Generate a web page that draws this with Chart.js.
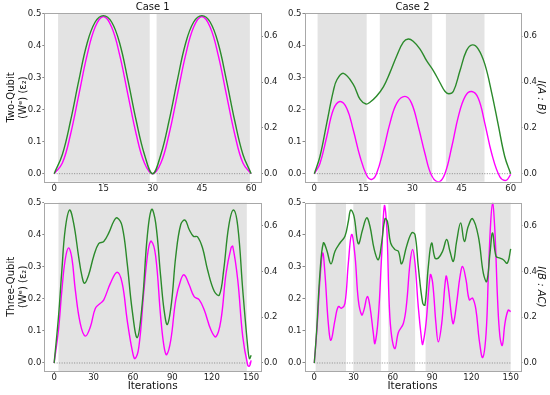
<!DOCTYPE html>
<html><head><meta charset="utf-8">
<script src="https://cdn.jsdelivr.net/npm/chart.js@4.4.1/dist/chart.umd.min.js"></script>
<style>
html,body{margin:0;padding:0;background:#fff;}
#wrap{position:relative;width:550px;height:395px;overflow:hidden;}
canvas{position:absolute;left:0;top:0;}
</style></head><body>
<div id="wrap">
<canvas id="c1" width="550" height="395"></canvas>
<canvas id="c2" width="550" height="395"></canvas>
<canvas id="c3" width="550" height="395"></canvas>
<canvas id="c4" width="550" height="395"></canvas>
</div>
<script>
// ---------- tick labels ----------
const xTicksShort = [0, 15, 30, 45, 60];
const xTicksLong = [0, 30, 60, 90, 120, 150];
const leftTicks = [0, 0.1, 0.2, 0.3, 0.4, 0.5];
const rightTicks = [0, 0.2, 0.4, 0.6];

// ---------- Two-Qubit, Case 1 ----------
const tqC1X = [0,2.5,5,7.5,10,12.5,15,17.5,20,22.5,25,27.5,30,32.5,35,37.5,40,42.5,45,47.5,50,52.5,55,57.5,60];
const tqC1Ent = [0,0.033,0.123,0.245,0.368,0.457,0.49,0.457,0.368,0.245,0.123,0.033,0,0.033,0.123,0.245,0.368,0.457,0.49,0.457,0.368,0.245,0.123,0.033,0];
const tqC1MI = [0,0.084,0.231,0.406,0.567,0.662,0.69,0.662,0.567,0.406,0.231,0.084,0,0.084,0.231,0.406,0.567,0.662,0.69,0.662,0.567,0.406,0.231,0.084,0];
const tqC1Shade = [[1.2,29.1],[31.2,59.6]];

// ---------- Two-Qubit, Case 2 ----------
const tqC2EntX = [0,1.7,3.8,5.8,7.8,9.9,11.9,14.0,16.0,17.5,19.0,21.1,23.1,25.2,27.7,29.7,31.8,33.8,35.8,37.9,39.9,42.0,44.0,46.1,48.1,50.1,52.1,54.2,56.7,58.6,60];
const tqC2Ent = [0,0.031,0.115,0.199,0.225,0.204,0.136,0.052,-0.005,-0.018,0,0.073,0.157,0.220,0.241,0.220,0.146,0.063,-0.005,-0.026,0,0.084,0.178,0.241,0.256,0.235,0.157,0.063,-0.010,-0.021,-0.002];
const tqC2MIX = [0,1.7,3.8,5.8,6.9,8.9,11.9,14.0,15.8,17.0,19.0,21.1,23.1,25.2,27.2,28.7,30.2,32.3,34.3,36.4,38.4,39.9,41.1,42.5,44.5,46.5,48.3,50.1,52.1,54.2,56.2,58.2,60];
const tqC2MI = [0,0.074,0.221,0.36,0.41,0.438,0.39,0.324,0.304,0.312,0.338,0.379,0.441,0.515,0.574,0.588,0.578,0.544,0.493,0.449,0.397,0.360,0.349,0.360,0.449,0.537,0.562,0.544,0.478,0.353,0.213,0.074,0];
const tqC2Shade = [[1,16],[20,36],[40.2,52]];

// ---------- Three-Qubit, Case 1 ----------
const thC1EntX = [0,3.3,5.9,8.4,10.97,13.5,16.1,19.9,23.7,27.6,31.4,35.2,37.8,42.9,48,51.8,55.6,59.4,61.5,64.5,68.4,71.7,74,77.3,81.1,83.7,85.7,88.8,92.6,96.4,99,102.8,106.6,110.5,114.3,119.4,123.2,127,130.9,134.7,136,139.8,143.6,147.4,148.7,150];
const thC1Ent = [0,0.103,0.228,0.322,0.359,0.327,0.228,0.123,0.084,0.113,0.171,0.186,0.197,0.249,0.283,0.249,0.134,0.040,0.014,0.050,0.228,0.354,0.380,0.333,0.144,0.050,0.026,0.071,0.197,0.259,0.275,0.244,0.207,0.197,0.165,0.103,0.082,0.134,0.280,0.359,0.364,0.259,0.082,-0.007,-0.010,0.008];
const thC1MIX = [0,3.3,5.9,8.4,11.7,14.8,18.6,21.2,23.2,26.3,30.1,33.9,37.8,41.6,45.4,48,51.8,55.6,59.4,63.3,67.1,70.9,74.2,77.3,81.1,83.7,86.2,89.3,92.6,96.4,99.7,102.8,106.1,109.2,113,116.8,122,125.8,129.1,132.9,136.5,139.8,143.6,147.4,148.7,150];
const thC1MI = [0,0.202,0.407,0.583,0.668,0.612,0.466,0.378,0.348,0.385,0.466,0.521,0.531,0.568,0.619,0.634,0.597,0.436,0.231,0.111,0.261,0.553,0.671,0.612,0.378,0.231,0.168,0.261,0.466,0.605,0.624,0.583,0.553,0.551,0.502,0.407,0.312,0.297,0.407,0.597,0.668,0.597,0.319,0.070,0.019,0.034];
const thC1Shade = [[3.3,146.7]];

// ---------- Three-Qubit, Case 2 ----------
const thC2EntX = [0,2.3,4.3,6.4,8.1,10.7,12.7,15.8,18.3,20.9,23.4,26,28.5,31.1,33.6,36.2,37.9,40.5,42.5,45.1,46.3,48.9,51.4,53.5,55.3,57.3,59.1,61.6,64.2,68,70.5,73.1,75.1,76.9,79.4,82,82.8,85.3,88.6,90.4,92.9,94.7,97.3,100.6,102.3,104.9,106.2,108.7,111.3,113.3,115.9,118.4,120.9,123.5,126,128.6,131.2,133,134.7,136.2,138,140,141.8,143.6,145.6,148.1,150];
const thC2Ent = [0,0.123,0.259,0.343,0.280,0.123,0.071,0.134,0.176,0.171,0.186,0.312,0.401,0.333,0.197,0.150,0.165,0.207,0.176,0.092,0.061,0.144,0.333,0.490,0.427,0.176,0.082,0.045,0.095,0.123,0.186,0.312,0.354,0.312,0.176,0.071,0.058,0.123,0.275,0.250,0.123,0.066,0.123,0.270,0.238,0.144,0.123,0.186,0.270,0.301,0.259,0.197,0.202,0.165,0.071,0.017,0.092,0.280,0.437,0.500,0.406,0.197,0.082,0.055,0.123,0.165,0.160];
const thC2MIX = [0,1.8,4.3,6.9,9.4,12.7,15.8,19.6,23.4,26,27.8,30.3,33.6,36.9,40,42.5,45.8,48.9,51.4,54,55.8,58.3,61.6,64.2,66.7,70.5,74.4,76.9,79.4,82.8,84.5,87.1,89.6,92.2,94.7,98,101.1,103.6,106.2,108.7,111.8,114.6,117.6,120.9,125.3,129.1,131.7,134.2,136.2,138.8,141.8,144.4,147.4,150];
const thC2MI = [0,0.143,0.392,0.524,0.495,0.433,0.488,0.524,0.553,0.619,0.668,0.641,0.521,0.583,0.634,0.597,0.495,0.451,0.524,0.630,0.619,0.524,0.495,0.488,0.433,0.510,0.568,0.561,0.422,0.261,0.253,0.422,0.524,0.458,0.458,0.488,0.539,0.488,0.444,0.531,0.612,0.531,0.597,0.630,0.553,0.392,0.356,0.480,0.568,0.466,0.458,0.451,0.436,0.498];
const thC2Shade = [[1,24.2],[29.8,51],[56.5,77],[85,150]];

// ---------- styling / layout ----------
const FONT = 'DejaVu Sans';
const GREEN = '#2b8a2b';
const MAGENTA = '#ff00ff';
const SHADE = '#e3e3e3';
const FRAME = '#a8a8a8';
const TICKC = '#222';

Chart.defaults.font.family = FONT;
Chart.defaults.color = TICKC;

function pts(xs, ys) { return xs.map((x, i) => ({ x: x, y: ys[i] })); }

const framePlugin = {
  id: 'panelDeco',
  beforeDatasetsDraw(chart, args, opts) {
    const ctx = chart.ctx, a = chart.chartArea, xs = chart.scales.x;
    ctx.save();
    ctx.fillStyle = SHADE;
    (opts.spans || []).forEach(function (sp) {
      const x0 = xs.getPixelForValue(sp[0]), x1 = xs.getPixelForValue(sp[1]);
      ctx.fillRect(x0, a.top, x1 - x0, a.bottom - a.top);
    });
    ctx.restore();
  },
  afterDraw(chart) {
    const ctx = chart.ctx, a = chart.chartArea;
    ctx.save();
    ctx.strokeStyle = FRAME; ctx.lineWidth = 1;
    ctx.strokeRect(Math.round(a.left) + 0.5, Math.round(a.top) + 0.5,
      Math.round(a.right) - Math.round(a.left), Math.round(a.bottom) - Math.round(a.top));
    ctx.restore();
  }
};

function makePanel(id, P) {
  const tickFont = { size: 8.5 };
  const scales = {
    x: {
      type: 'linear', position: 'bottom', min: P.xMin, max: P.xMax,
      afterFit: s => { s.height = P.xH; },
      afterBuildTicks: s => { s.ticks = P.xTicks.map(v => ({ value: v })); },
      ticks: { autoSkip: false, maxRotation: 0, padding: 0, color: TICKC, font: tickFont, callback: v => String(v) },
      grid: { display: true, drawOnChartArea: false, drawTicks: true, tickLength: 2, color: '#888' },
      border: { display: false },
      title: { display: !!P.xTitle, text: P.xTitle || '', color: '#111', font: { size: 10.5 }, padding: { top: 0, bottom: 0 } }
    },
    y: {
      type: 'linear', position: 'left', min: -0.025, max: 0.5,
      afterFit: s => { s.width = P.yW; },
      afterBuildTicks: s => { s.ticks = leftTicks.map(v => ({ value: v })); },
      ticks: { autoSkip: false, padding: 1, color: TICKC, font: tickFont, callback: v => v.toFixed(1) },
      grid: { display: true, drawOnChartArea: false, drawTicks: true, tickLength: 2, color: '#888' },
      border: { display: false },
      title: { display: !!P.yTitle, text: P.yTitle || '', color: '#111', font: { size: 10 }, padding: { top: 0, bottom: 0 } }
    },
    y1: {
      type: 'linear', position: 'right', min: -0.035, max: 0.7,
      afterFit: s => { s.width = P.y1W; },
      afterBuildTicks: s => { s.ticks = rightTicks.map(v => ({ value: v })); },
      ticks: { autoSkip: false, padding: 1, color: TICKC, font: tickFont, callback: v => v.toFixed(1) },
      grid: { display: true, drawOnChartArea: false, drawTicks: true, tickLength: 2, color: '#888' },
      border: { display: false },
      title: { display: !!P.y1Title, text: P.y1Title || '', color: '#111', font: { size: 10, style: 'italic' }, padding: { top: 0, bottom: 0 } }
    }
  };
  if (P.title) {
    scales.xt = {
      type: 'linear', position: 'top', min: P.xMin, max: P.xMax,
      afterFit: s => { s.height = P.xtH; },
      ticks: { display: false }, grid: { display: false }, border: { display: false },
      title: { display: true, text: P.title, color: '#111', font: { size: 10 }, padding: { top: 1.5, bottom: 0 } }
    };
  }
  return new Chart(document.getElementById(id), {
    type: 'line',
    data: {
      datasets: [
        { data: pts(P.miX, P.mi), yAxisID: 'y1', xAxisID: 'x', borderColor: GREEN, borderWidth: 1.4,
          pointRadius: 0, fill: false, tension: 0.4 },
        { data: pts(P.entX, P.ent), yAxisID: 'y', xAxisID: 'x', borderColor: MAGENTA, borderWidth: 1.4,
          pointRadius: 0, fill: false, tension: 0.4 },
        { data: pts([0, P.dotMax], [0, 0]), yAxisID: 'y', xAxisID: 'x', borderColor: '#8a8a8a', borderWidth: 1,
          borderDash: [1, 1.5], pointRadius: 0, fill: false }
      ]
    },
    options: {
      responsive: false, animation: false, devicePixelRatio: 1,
      layout: { padding: P.pad },
      plugins: { legend: { display: false }, tooltip: { enabled: false }, title: { display: false },
        panelDeco: { spans: P.spans } },
      scales: scales
    },
    plugins: [framePlugin]
  });
}

makePanel('c1', {
  xMin: -3, xMax: 63, xTicks: xTicksShort, dotMax: 60,
  entX: tqC1X, ent: tqC1Ent, miX: tqC1X, mi: tqC1MI, spans: tqC1Shade,
  title: 'Case 1', yTitle: ['Two-Qubit', '(Wᵉ) (ε₂)'],
  pad: { left: 5.5, right: 269, top: 0, bottom: 200.3 }, yW: 38.8, y1W: 20, xH: 13, xtH: 13.3
});
makePanel('c2', {
  xMin: -3, xMax: 63, xTicks: xTicksShort, dotMax: 60,
  entX: tqC2EntX, ent: tqC2Ent, miX: tqC2MIX, mi: tqC2MI, spans: tqC2Shade,
  title: 'Case 2', y1Title: 'I(A : B)',
  pad: { left: 270, right: 3, top: 0, bottom: 200.3 }, yW: 34.5, y1W: 26.5, xH: 13, xtH: 13.3
});
makePanel('c3', {
  xMin: -7.5, xMax: 157.5, xTicks: xTicksLong, dotMax: 150,
  entX: thC1EntX, ent: thC1Ent, miX: thC1MIX, mi: thC1MI, spans: thC1Shade,
  yTitle: ['Three-Qubit', '(Wᵉ) (ε₂)'], xTitle: 'Iterations',
  pad: { left: 5.5, right: 269, top: 202.7, bottom: 2 }, yW: 38.8, y1W: 20, xH: 22
});
makePanel('c4', {
  xMin: -7.5, xMax: 157.5, xTicks: xTicksLong, dotMax: 150,
  entX: thC2EntX, ent: thC2Ent, miX: thC2MIX, mi: thC2MI, spans: thC2Shade,
  y1Title: 'I(B : AC)', xTitle: 'Iterations',
  pad: { left: 270, right: 3, top: 202.7, bottom: 2 }, yW: 34.5, y1W: 26.5, xH: 22
});
</script>
</body></html>
